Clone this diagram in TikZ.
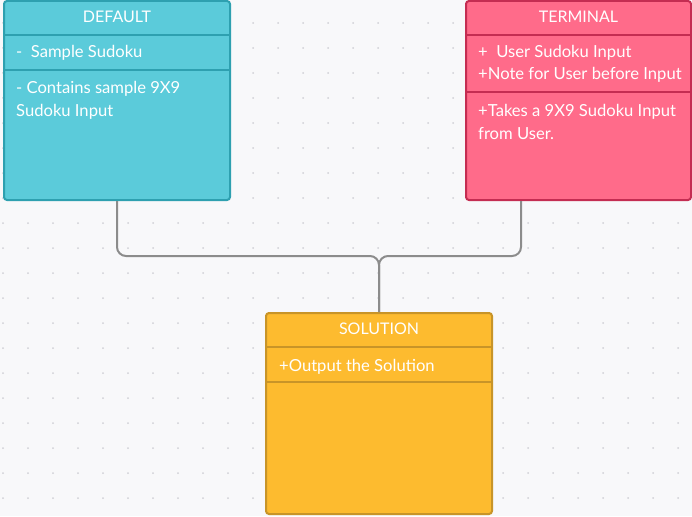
\documentclass[tikz,border=0pt]{standalone}
\usepackage{fontspec}
\setmainfont{Lato}
\usepackage{tikz}
\definecolor{canvasgray}{RGB}{248, 248, 250}
\definecolor{dotgray}{RGB}{208, 208, 214}
\definecolor{defaultcyan}{RGB}{91, 203, 218}
\definecolor{defaultedge}{RGB}{46, 160, 176}
\definecolor{terminalpink}{RGB}{255, 107, 138}
\definecolor{terminaledge}{RGB}{196, 45, 82}
\definecolor{solutionamber}{RGB}{253, 187, 47}
\definecolor{solutionedge}{RGB}{200, 148, 40}
\definecolor{linkgray}{RGB}{140, 140, 140}
\usetikzlibrary{calc, positioning}

\tikzset{
    classbox/.style={rectangle, line width=2pt, rounded corners=3pt, inner sep=0pt,
          anchor=north west, minimum width=#1},
    classtitle/.style={text=white, inner sep=0pt, font=\fontsize{16}{22}\selectfont},
    classtext/.style={text=white, inner sep=0pt, anchor=base west, align=left,
          font=\fontsize{16.6}{22.5}\selectfont},
    link/.style={draw=linkgray, line width=2pt, rounded corners=9pt},
}

\begin{document}
\begin{tikzpicture}[x=1pt, y=-1pt]
    % canvas with dot grid
    \fill[canvasgray] (0,0) rectangle (692,516);
    \useasboundingbox (0,0) rectangle (692,516);
    \foreach \i in {3,28,...,692} {
        \foreach \j in {23,48,...,516} {
            \fill[dotgray] (\i,\j) circle (1pt);
        }
    }

    % class boxes
    \node[classbox=226pt, minimum height=199pt, draw=defaultedge, fill=defaultcyan] (defaultbox) at (3,0) {};
    \node[classbox=225pt, minimum height=199pt, draw=terminaledge, fill=terminalpink] (terminalbox) at (465,0) {};
    \node[classbox=226pt, minimum height=201pt, draw=solutionedge, fill=solutionamber] (solutionbox) at (265,312) {};

    % compartments
    \draw[defaultedge, line width=2pt] ([yshift=-35pt]defaultbox.north west) -- ([yshift=-35pt]defaultbox.north east);
    \draw[defaultedge, line width=2pt] ([yshift=-70pt]defaultbox.north west) -- ([yshift=-70pt]defaultbox.north east);
    \draw[terminaledge, line width=2pt] ([yshift=-35pt]terminalbox.north west) -- ([yshift=-35pt]terminalbox.north east);
    \draw[terminaledge, line width=2pt] ([yshift=-92pt]terminalbox.north west) -- ([yshift=-92pt]terminalbox.north east);
    \draw[solutionedge, line width=2pt] ([yshift=-35pt]solutionbox.north west) -- ([yshift=-35pt]solutionbox.north east);
    \draw[solutionedge, line width=2pt] ([yshift=-70pt]solutionbox.north west) -- ([yshift=-70pt]solutionbox.north east);

    % texts (multi-line nodes sit on their last baseline)
    \node[classtitle] (defaulttitle) at ($(defaultbox.north)+(0,17)$) {DEFAULT};
    \node[classtext] (defaultattr) at (16,58) {-\ \ Sample Sudoku};
    \node[classtext] (defaultop) at (16,116) {- Contains sample 9X9\\Sudoku Input};

    \node[classtitle] (terminaltitle) at ($(terminalbox.north)+(0,17)$) {TERMINAL};
    \node[classtext] (terminalattr) at (478,80) {+\ \ User Sudoku Input\\+Note for User before Input};
    \node[classtext] (terminalop) at (478,139) {+Takes\ a 9X9 Sudoku Input\\from User.};

    \node[classtitle] (solutiontitle) at ($(solutionbox.north)+(0,17)$) {SOLUTION};
    \node[classtext] (solutionattr) at (279,371) {+Output the Solution};

    % connectors
    \coordinate (join) at ($(solutionbox.north)+(0,-56)$);
    \draw[link] (defaultbox.south) |- (join) -- (solutionbox.north);
    \draw[link] ([xshift=56pt]terminalbox.south west) |- (join) -- (solutionbox.north);
\end{tikzpicture}
\end{document}
